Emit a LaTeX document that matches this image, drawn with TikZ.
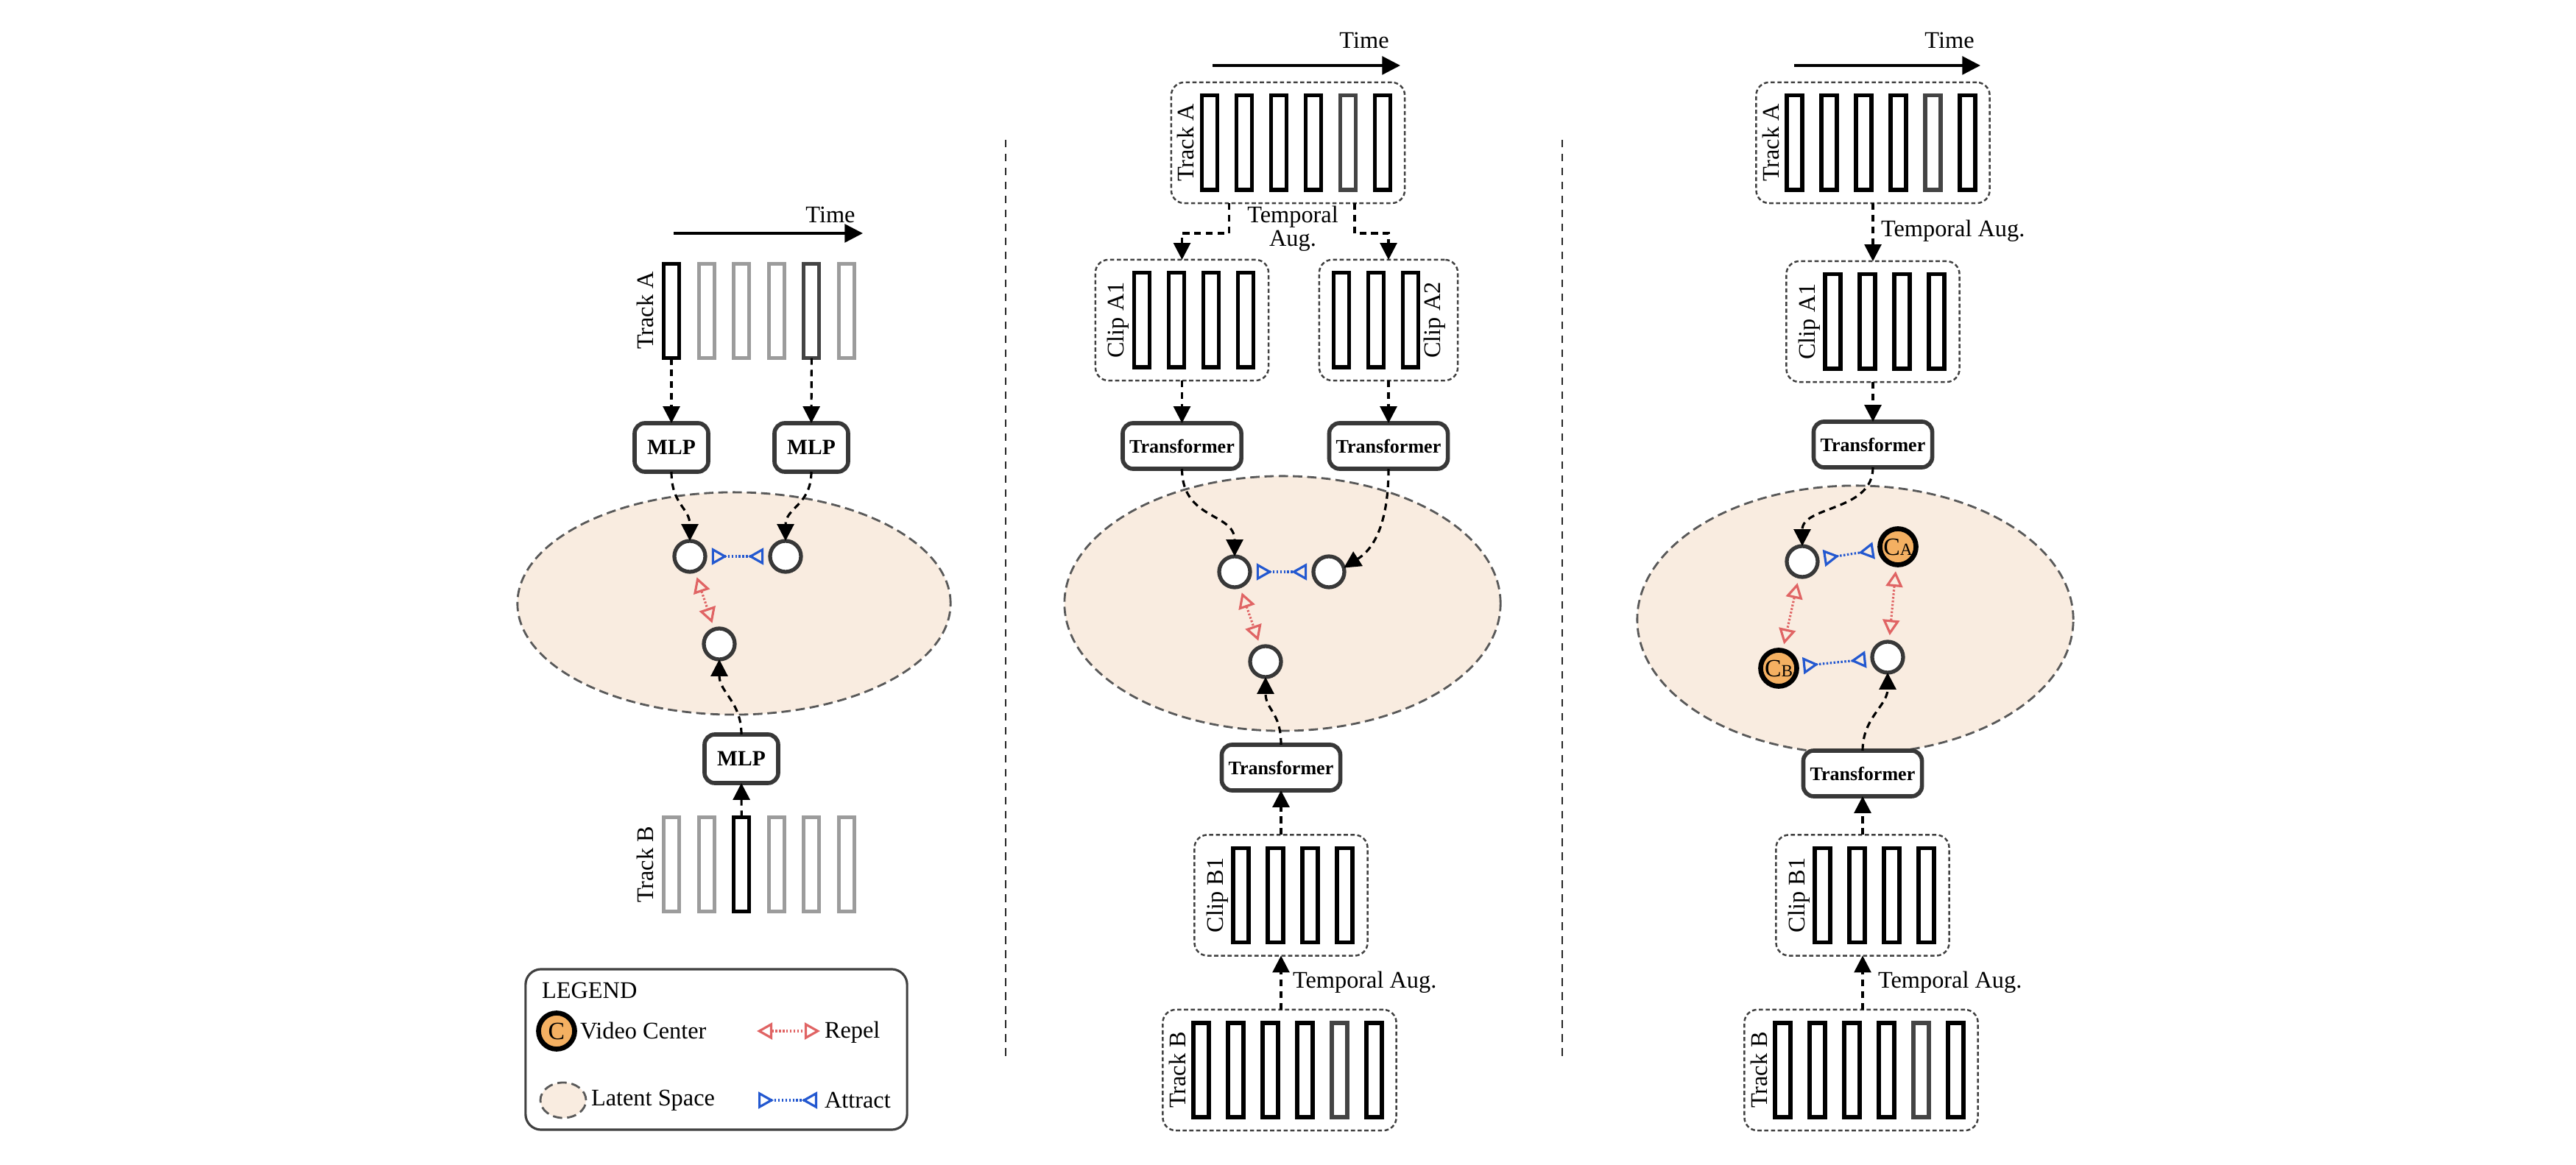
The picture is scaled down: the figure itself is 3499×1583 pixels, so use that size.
\documentclass[tikz,border=0pt]{standalone}
\usepackage{fontspec}
\setmainfont{Liberation Serif}
\usetikzlibrary{arrows.meta,shapes.geometric}
\definecolor{latentfill}{HTML}{F9ECE0}
\definecolor{orng}{HTML}{F4B062}
\definecolor{attrc}{HTML}{2358D0}
\definecolor{repc}{HTML}{E06464}
\definecolor{fgray}{HTML}{9C9C9C}
\definecolor{fdark}{HTML}{444444}
\definecolor{boxc}{HTML}{383838}
\begin{document}
\begin{tikzpicture}[x=0.01cm,y=-0.01cm,
  every node/.style={inner sep=0pt, outer sep=0pt, font=\fontsize{9.2}{10}\selectfont},
  frm/.style={draw, line width=1.45pt, minimum width=0.21cm, minimum height=1.28cm},
  trackbox/.style={draw=black!75, line width=0.7pt, dash pattern=on 1.6pt off 1pt, rounded corners=5pt, minimum height=1.64cm},
  proc/.style={draw=boxc, line width=1.6pt, rounded corners=4pt, fill=white},
  mlpbox/.style={proc, minimum width=1.0cm, minimum height=0.66cm, font=\fontsize{8.4}{9}\selectfont\bfseries},
  tfbox/.style={proc, minimum width=1.61cm, minimum height=0.62cm, font=\fontsize{7.4}{8}\selectfont\bfseries},
  latentsp/.style={ellipse, draw=black!65, line width=0.8pt, dash pattern=on 3.6pt off 1.9pt, fill=latentfill},
  emb/.style={circle, draw=boxc, line width=1.5pt, fill=white, minimum size=0.42cm},
  ctr/.style={circle, draw=black, line width=1.9pt, fill=orng, minimum size=0.49cm, font=\fontsize{9.6}{10}\selectfont},
  conn/.style={line width=0.9pt, dash pattern=on 2.6pt off 1.9pt, -{Triangle[length=6.5pt,width=6.5pt]}},
  attract/.style={draw=attrc, line width=0.9pt, dash pattern=on 0.7pt off 0.7pt, {Triangle[open,reversed,length=6pt,width=6.5pt]}-{Triangle[open,reversed,length=6pt,width=6.5pt]}, shorten <=2.5pt, shorten >=2.5pt},
  repel/.style={draw=repc, line width=0.9pt, dash pattern=on 0.7pt off 0.7pt, {Triangle[open,length=6pt,width=6.5pt]}-{Triangle[open,length=6pt,width=6.5pt]}, shorten <=2.5pt, shorten >=2.5pt},
  timearrow/.style={line width=1pt, -{Triangle[length=7pt,width=7pt]}},
  divider/.style={line width=0.8pt, dash pattern=on 2.9pt off 2.5pt, black!85},
  timelbl/.style={font=\fontsize{9.2}{10}\selectfont},
]
\useasboundingbox (0,0) rectangle (3499,1583);
% dividers
\coordinate (d1t) at (1366,190); \coordinate (d1b) at (1366,1440);
\coordinate (d2t) at (2122,190); \coordinate (d2b) at (2122,1440);
\draw[divider] (d1t) -- (d1b);
\draw[divider] (d2t) -- (d2b);

% ================= Panel 1 =================
\coordinate (p1ts) at (915,317); \coordinate (p1te) at (1172,317);
\draw[timearrow] (p1ts) -- (p1te);
\node[timelbl] (p1time) at (1128,292) {Time};
\foreach \i/\c in {1/black,2/fgray,3/fgray,4/fgray,5/fdark,6/fgray}
  \node[frm, draw=\c] (p1a\i) at ({912+47.6*(\i-1)},422.5) {};
\node[rotate=90] (p1lA) at (876,422) {Track A};
\node[mlpbox] (p1m1) at (912,608) {MLP};
\node[mlpbox] (p1m2) at (1102,608) {MLP};
\node[latentsp, minimum width=5.88cm, minimum height=3.02cm] (p1ls) at (997,820) {};
\node[emb] (p1c1) at (937,756) {};
\node[emb] (p1c2) at (1067,756) {};
\node[emb] (p1c3) at (977,875) {};
\node[mlpbox] (p1m3) at (1007,1031) {MLP};
\foreach \i/\c in {1/fgray,2/fgray,3/black,4/fgray,5/fgray,6/fgray}
  \node[frm, draw=\c] (p1b\i) at ({912+47.6*(\i-1)},1174.5) {};
\node[rotate=90] (p1lB) at (876,1175) {Track B};
\draw[conn] (p1a1.south) -- (p1m1.north);
\draw[conn] (p1a5.south) -- (p1m2.north);
\draw[conn] (p1m1.south) .. controls +(0,45) and +(0,-45) .. (p1c1.north);
\draw[conn] (p1m2.south) .. controls +(0,45) and +(0,-45) .. (p1c2.north);
\draw[conn] (p1b3.north) -- (p1m3.south);
\draw[conn] (p1m3.north) .. controls +(0,-45) and +(0,45) .. (p1c3.south);
\draw[attract] (p1c1) -- (p1c2);
\draw[repel] (p1c1) -- (p1c3);

% Legend
\node[draw=black!75, line width=0.9pt, rounded corners=6pt, minimum width=5.18cm, minimum height=2.18cm] (leg) at (973,1426) {};
\node[anchor=west] (legt) at (736,1346) {LEGEND};
\node[ctr] (legc) at (756,1401) {C};
\node[anchor=west] (legvc) at (788,1401) {Video Center};
\coordinate (lr1) at (1028,1401); \coordinate (lr2) at (1114,1401);
\draw[repel, shorten <=0pt, shorten >=0pt] (lr1) -- (lr2);
\node[anchor=west] (legr) at (1120,1403) {Repel};
\node[latentsp, minimum width=0.62cm, minimum height=0.48cm] (legls) at (765,1495) {};
\node[anchor=west] (legl) at (803,1495) {Latent Space};
\coordinate (la1) at (1030,1495); \coordinate (la2) at (1110,1495);
\draw[attract, shorten <=0pt, shorten >=0pt] (la1) -- (la2);
\node[anchor=west] (lega) at (1120,1495) {Attract};

% ================= Panel 2 =================
\coordinate (p2ts) at (1647,89); \coordinate (p2te) at (1902,89);
\draw[timearrow] (p2ts) -- (p2te);
\node[timelbl] (p2time) at (1853,55) {Time};
\node[trackbox, minimum width=3.17cm] (p2A) at (1749.5,194) {};
\foreach \i/\c in {1/black,2/black,3/black,4/black,5/fdark,6/black}
  \node[frm, draw=\c] (p2a\i) at ({1643+47*(\i-1)},194) {};
\node[rotate=90] (p2lA) at (1610.5,194) {Track A};
\node[trackbox, minimum width=2.35cm] (p2cA1) at (1605.5,435) {};
\foreach \i in {1,...,4}
  \node[frm] (p2p\i) at ({1551+47*(\i-1)},435) {};
\node[rotate=90] (p2lc1) at (1519,435) {Clip A1};
\node[trackbox, minimum width=1.88cm] (p2cA2) at (1886,435) {};
\foreach \i in {1,2,3}
  \node[frm] (p2q\i) at ({1822+47*(\i-1)},435) {};
\node[rotate=90] (p2lc2) at (1949,435) {Clip A2};
\node[align=center, font=\fontsize{9.2}{9}\selectfont] (p2tag) at (1756,311) {Temporal\\Aug.};
\draw[conn] ([xshift=-0.8cm]p2A.south) -- ++(0,41) -| (p2cA1.north);
\draw[conn] ([xshift=0.905cm]p2A.south) -- ++(0,41) -| (p2cA2.north);
\node[tfbox] (p2t1) at (1605.5,606) {Transformer};
\node[tfbox] (p2t2) at (1886,606) {Transformer};
\draw[conn] (p2cA1.south) -- (p2t1.north);
\draw[conn] (p2cA2.south) -- (p2t2.north);
\node[latentsp, minimum width=5.92cm, minimum height=3.46cm] (p2ls) at (1742,820) {};
\node[emb] (p2c1) at (1677,777) {};
\node[emb] (p2c2) at (1805,777) {};
\node[emb] (p2c3) at (1719,899) {};
\draw[conn] (p2t1.south) .. controls +(0,70) and +(0,-60) .. (p2c1.north);
\draw[conn] (p2t2.south) .. controls +(0,95) and +(28,-18) .. (p2c2.15);
\draw[attract] (p2c1) -- (p2c2);
\draw[repel] (p2c1) -- (p2c3);
\node[tfbox] (p2t3) at (1740,1043) {Transformer};
\draw[conn] (p2t3.north) .. controls +(0,-45) and +(0,45) .. (p2c3.south);
\node[trackbox, minimum width=2.35cm] (p2cB1) at (1740,1216.5) {};
\foreach \i in {1,...,4}
  \node[frm] (p2r\i) at ({1685.5+47*(\i-1)},1216.5) {};
\node[rotate=90] (p2lcb) at (1653.5,1216.5) {Clip B1};
\draw[conn] (p2cB1.north) -- (p2t3.south);
\node[trackbox, minimum width=3.17cm] (p2B) at (1738,1454) {};
\foreach \i/\c in {1/black,2/black,3/black,4/black,5/fdark,6/black}
  \node[frm, draw=\c] (p2b\i) at ({1631.5+47*(\i-1)},1454) {};
\node[rotate=90] (p2lB) at (1599,1454) {Track B};
\draw[conn] (p2B.north -| p2cB1.south) -- (p2cB1.south);
\node[anchor=west] (p2tab) at (1756,1335) {Temporal Aug.};

% ================= Panel 3 =================
\coordinate (p3ts) at (2437,89); \coordinate (p3te) at (2690,89);
\draw[timearrow] (p3ts) -- (p3te);
\node[timelbl] (p3time) at (2648,55) {Time};
\node[trackbox, minimum width=3.17cm] (p3A) at (2544,194) {};
\foreach \i/\c in {1/black,2/black,3/black,4/black,5/fdark,6/black}
  \node[frm, draw=\c] (p3a\i) at ({2437.5+47*(\i-1)},194) {};
\node[rotate=90] (p3lA) at (2405,194) {Track A};
\node[trackbox, minimum width=2.35cm] (p3cA1) at (2544,437) {};
\foreach \i in {1,...,4}
  \node[frm] (p3p\i) at ({2489.5+47*(\i-1)},437) {};
\node[rotate=90] (p3lc1) at (2457.5,437) {Clip A1};
\draw[conn] (p3A.south) -- (p3cA1.north);
\node[anchor=west] (p3taa) at (2555,314) {Temporal Aug.};
\node[tfbox] (p3t1) at (2544,604) {Transformer};
\draw[conn] (p3cA1.south) -- (p3t1.north);
\node[latentsp, minimum width=5.92cm, minimum height=3.64cm] (p3ls) at (2520,842) {};
\node[emb] (p3c1) at (2448,763) {};
\node[ctr] (p3ca) at (2578,743) {C{\fontsize{6.6}{7}\selectfont A}};
\node[ctr] (p3cb) at (2416,908) {C{\fontsize{6.6}{7}\selectfont B}};
\node[emb] (p3c2) at (2564,893) {};
\draw[conn] (p3t1.south) .. controls +(0,60) and +(0,-55) .. (p3c1.north);
\draw[attract] (p3c1) -- (p3ca);
\draw[attract] (p3cb) -- (p3c2);
\draw[repel] (p3c1) -- (p3cb);
\draw[repel] (p3ca) -- (p3c2);
\node[tfbox] (p3t2) at (2530,1051) {Transformer};
\draw[conn] (p3t2.north) .. controls +(0,-45) and +(0,45) .. (p3c2.south);
\node[trackbox, minimum width=2.35cm] (p3cB1) at (2530,1216.5) {};
\foreach \i in {1,...,4}
  \node[frm] (p3r\i) at ({2475.5+47*(\i-1)},1216.5) {};
\node[rotate=90] (p3lcb) at (2443.5,1216.5) {Clip B1};
\draw[conn] (p3cB1.north) -- (p3t2.south);
\node[trackbox, minimum width=3.17cm] (p3B) at (2528,1454) {};
\foreach \i/\c in {1/black,2/black,3/black,4/black,5/fdark,6/black}
  \node[frm, draw=\c] (p3b\i) at ({2421.5+47*(\i-1)},1454) {};
\node[rotate=90] (p3lB) at (2389,1454) {Track B};
\draw[conn] (p3B.north -| p3cB1.south) -- (p3cB1.south);
\node[anchor=west] (p3tab) at (2551,1335) {Temporal Aug.};
\end{tikzpicture}
\end{document}
